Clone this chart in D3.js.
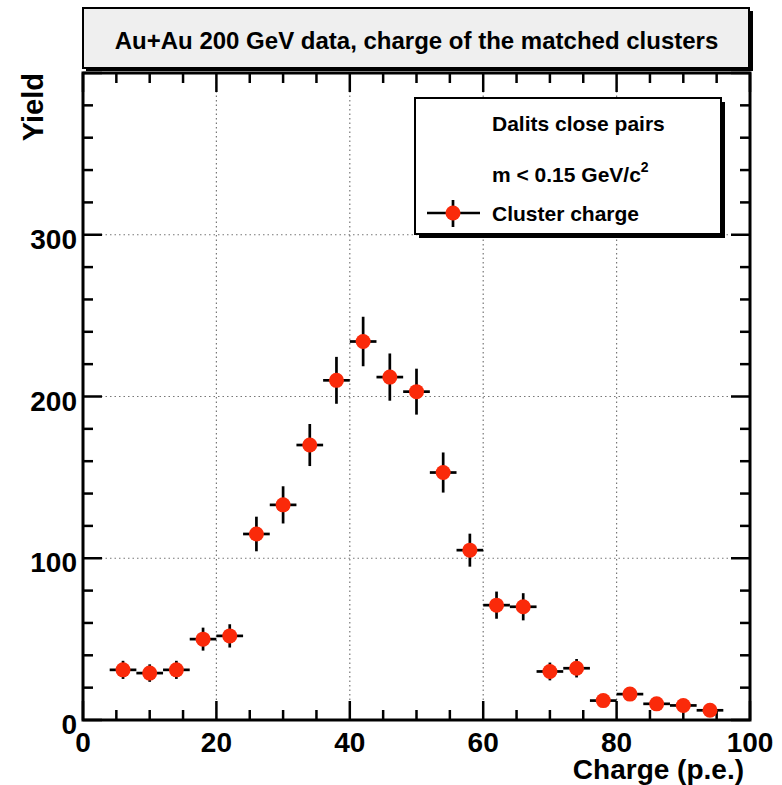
<!DOCTYPE html>
<html>
<head>
<script src="https://cdn.jsdelivr.net/npm/d3@7"></script>
<style type="text/css">
  body{
    margin: 0;
    background: white;
    font-family: 'Liberation Sans', Arial, sans-serif;
  }
</style>
</head>
<body>
<div id="chart"></div>
<script>

// bin centres (p.e.), half bin width, yields and their errors
var charge = [6, 10, 14, 18, 22, 26, 30, 34, 38, 42, 46, 50, 54, 58, 62, 66, 70, 74, 78, 82, 86, 90, 94];
var halfBin = 2;
var yieldVal = [31, 29, 31, 50, 52, 115, 133, 170, 210, 234, 212, 203, 153, 105, 71, 70, 30, 32, 12, 16, 10, 9, 6];
var yieldErr = [5.6, 5.4, 5.6, 7.1, 7.2, 10.7, 11.5, 13, 14.5, 15.3, 14.6, 14.2, 12.4, 10.2, 8.4, 8.4, 5.5, 5.7, 3.5, 4, 3.2, 3, 2.4];

var xTicks = [0, 20, 40, 60, 80, 100];
var yTicks = [0, 100, 200, 300];

var titleText = "Au+Au 200 GeV data, charge of the matched clusters";
var legendLines = ["Dalits close pairs", "m < 0.15 GeV/c", "Cluster charge"];

var W = 782, H = 785;
var padL = 83, padR = 750, padT = 73, padB = 720;

var svg = d3.select("#chart").append("svg")
  .attr("width", W)
  .attr("height", H);

var x = d3.scaleLinear().domain([0, 100]).range([padL, padR]);
var y = d3.scaleLinear().domain([0, 400]).range([padB, padT]);

// title box with shadow
svg.append("rect")
  .attr("x", padL + 3).attr("y", 11)
  .attr("width", padR - padL).attr("height", 60)
  .attr("fill", "black");
svg.append("rect")
  .attr("x", padL).attr("y", 8)
  .attr("width", padR - padL - 1).attr("height", 60)
  .attr("fill", "#efefef")
  .attr("stroke", "black")
  .attr("stroke-width", 2);
svg.append("text")
  .attr("x", (padL + padR) / 2).attr("y", 49)
  .attr("text-anchor", "middle")
  .attr("font-size", 24)
  .attr("font-weight", "bold")
  .text(titleText);

// grid
svg.append("g").selectAll("line")
  .data(xTicks.slice(1, -1))
  .enter().append("line")
  .attr("x1", function(d) { return x(d); })
  .attr("x2", function(d) { return x(d); })
  .attr("y1", padT).attr("y2", padB)
  .attr("stroke", "#777").attr("stroke-width", 1.2)
  .attr("stroke-dasharray", "1.5,3");
svg.append("g").selectAll("line")
  .data(yTicks.slice(1))
  .enter().append("line")
  .attr("y1", function(d) { return y(d); })
  .attr("y2", function(d) { return y(d); })
  .attr("x1", padL).attr("x2", padR)
  .attr("stroke", "#777").attr("stroke-width", 1.2)
  .attr("stroke-dasharray", "1.5,3");

// axes, ROOT style ticks inside on all four sides
var xMinor = d3.range(0, 101, 5);
var yMinor = d3.range(0, 401, 20);

function tickLen(v, step) { return v % step === 0 ? 19 : 10; }

var ticks = svg.append("g").attr("stroke", "black").attr("stroke-width", 2.5);
xMinor.forEach(function(v) {
  var l = tickLen(v, 20);
  ticks.append("line").attr("x1", x(v)).attr("x2", x(v)).attr("y1", padB).attr("y2", padB - l);
  ticks.append("line").attr("x1", x(v)).attr("x2", x(v)).attr("y1", padT).attr("y2", padT + l);
});
yMinor.forEach(function(v) {
  var l = tickLen(v, 100);
  ticks.append("line").attr("y1", y(v)).attr("y2", y(v)).attr("x1", padL).attr("x2", padL + l);
  ticks.append("line").attr("y1", y(v)).attr("y2", y(v)).attr("x1", padR).attr("x2", padR - l);
});

svg.append("rect")
  .attr("x", padL).attr("y", padT)
  .attr("width", padR - padL).attr("height", padB - padT)
  .attr("fill", "none")
  .attr("stroke", "black")
  .attr("stroke-width", 3);

// tick labels
svg.append("g").selectAll("text")
  .data(xTicks)
  .enter().append("text")
  .attr("x", function(d) { return x(d); })
  .attr("y", padB + 32)
  .attr("text-anchor", "middle")
  .attr("font-size", 28)
  .attr("font-weight", "bold")
  .text(function(d) { return d; });
svg.append("g").selectAll("text")
  .data(yTicks)
  .enter().append("text")
  .attr("x", padL - 6)
  .attr("y", function(d) { return y(d) + 14; })
  .attr("text-anchor", "end")
  .attr("font-size", 28)
  .attr("font-weight", "bold")
  .text(function(d) { return d; });

// axis titles
svg.append("text")
  .attr("x", 744).attr("y", 779)
  .attr("text-anchor", "end")
  .attr("font-size", 28)
  .attr("font-weight", "bold")
  .text("Charge (p.e.)");
svg.append("text")
  .attr("transform", "translate(43," + padT + ") rotate(-90)")
  .attr("text-anchor", "end")
  .attr("font-size", 29)
  .attr("font-weight", "bold")
  .text("Yield");

// data points with error bars
var pts = svg.append("g");
charge.forEach(function(c, i) {
  var g = pts.append("g");
  g.append("line")
    .attr("x1", x(c - halfBin)).attr("x2", x(c + halfBin))
    .attr("y1", y(yieldVal[i])).attr("y2", y(yieldVal[i]))
    .attr("stroke", "black").attr("stroke-width", 2.7);
  g.append("line")
    .attr("x1", x(c)).attr("x2", x(c))
    .attr("y1", y(yieldVal[i] - yieldErr[i])).attr("y2", y(yieldVal[i] + yieldErr[i]))
    .attr("stroke", "black").attr("stroke-width", 2.7);
  g.append("circle")
    .attr("cx", x(c)).attr("cy", y(yieldVal[i]))
    .attr("r", 7.5)
    .attr("fill", "#fa2a0a");
});

// legend
var lx = 415, ly = 98, lw = 306, lh = 136;
svg.append("rect")
  .attr("x", lx + 4).attr("y", ly + 4)
  .attr("width", lw).attr("height", lh)
  .attr("fill", "black");
svg.append("rect")
  .attr("x", lx).attr("y", ly)
  .attr("width", lw).attr("height", lh)
  .attr("fill", "white")
  .attr("stroke", "black")
  .attr("stroke-width", 2);

svg.append("text")
  .attr("x", 492).attr("y", 131)
  .attr("font-size", 21).attr("font-weight", "bold")
  .text(legendLines[0]);
var mt = svg.append("text")
  .attr("x", 492).attr("y", 182)
  .attr("font-size", 21).attr("font-weight", "bold")
  .text(legendLines[1]);
mt.append("tspan")
  .attr("dy", -10)
  .attr("font-size", 14)
  .text("2");
svg.append("text")
  .attr("x", 492).attr("y", 221)
  .attr("font-size", 21).attr("font-weight", "bold")
  .text(legendLines[2]);

svg.append("line")
  .attr("x1", 427).attr("x2", 480).attr("y1", 213).attr("y2", 213)
  .attr("stroke", "black").attr("stroke-width", 2.7);
svg.append("line")
  .attr("x1", 453).attr("x2", 453).attr("y1", 200).attr("y2", 227)
  .attr("stroke", "black").attr("stroke-width", 2.7);
svg.append("circle")
  .attr("cx", 453).attr("cy", 213).attr("r", 7.5)
  .attr("fill", "#fa2a0a");

</script>
</body>
</html>
